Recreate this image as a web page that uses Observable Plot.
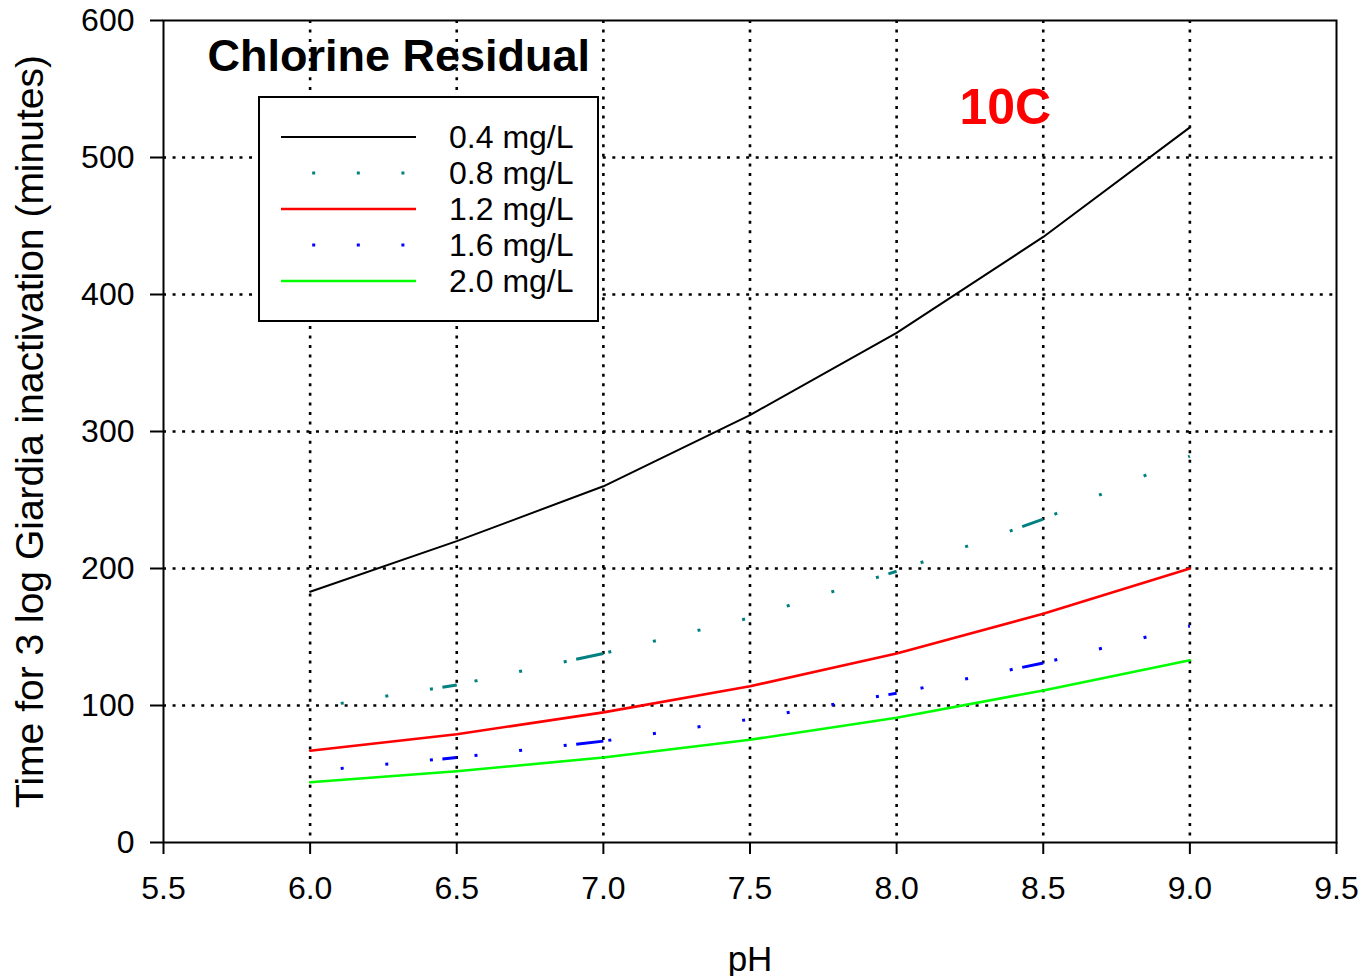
<!DOCTYPE html>
<html>
<head>
<meta charset="utf-8">
<script src="https://cdn.jsdelivr.net/npm/d3@7"></script>
<script src="https://cdn.jsdelivr.net/npm/@observablehq/plot@0.6"></script>
<style>
  html, body { margin: 0; padding: 0; background: #fff; }
  #chart { width: 1361px; height: 976px; }
</style>
</head>
<body>
<div id="chart"></div>
<script>
// ---------- data ----------
const pH = [6.0, 6.5, 7.0, 7.5, 8.0, 8.5, 9.0];
const time04 = [183, 220, 260, 312, 372, 442, 522];
const time08 = [98, 115, 138, 164, 198, 236, 282];
const time12 = [67, 79, 95, 114, 138, 167, 200];
const time16 = [52, 62, 74, 90, 109, 131, 158];
const time20 = [44, 52, 62, 75, 91, 111, 133];
const seriesLabels = ["0.4 mg/L", "0.8 mg/L", "1.2 mg/L", "1.6 mg/L", "2.0 mg/L"];
const xTicks = [5.5, 6.0, 6.5, 7.0, 7.5, 8.0, 8.5, 9.0, 9.5];
const yTicks = [0, 100, 200, 300, 400, 500, 600];
const gridX = [6.0, 6.5, 7.0, 7.5, 8.0, 8.5, 9.0];
const gridY = [100, 200, 300, 400, 500];
const titleText = "Chlorine Residual";
const tempText = "10C";
const xLabel = "pH";
const yLabel = "Time for 3 log Giardia inactivation (minutes)";

// ---------- styles ----------
const W = 1361, H = 976;
const M = {left: 163, right: 25, top: 20, bottom: 134};
const FONT = "'Liberation Sans', Arial, Helvetica, sans-serif";
const styles = [
  {values: time04, color: "#000000", solid: true, width: 2},
  {values: time08, color: "#008080", solid: false, width: 3},
  {values: time12, color: "#ff0000", solid: true, width: 2.6},
  {values: time16, color: "#0000ff", solid: false, width: 3},
  {values: time20, color: "#00ff00", solid: true, width: 2.6}
];

const xScale = Plot.scale({x: {domain: [5.5, 9.5], range: [M.left, W - M.right]}});
const yScale = Plot.scale({y: {domain: [0, 600], range: [H - M.bottom, M.top]}});

// dotted pattern (pixel space): small dots on a fixed horizontal period,
// with a short dash leading into each data point
const DOT_PERIOD = 44.6, DOT_PHASE = 341.7, DOT_LEN = 3, DASH_GAP = 11;
function segmentDash(px1, py1, px2, py2) {
  const dx = px2 - px1, L = Math.hypot(dx, py2 - py1), f = L / dx;
  const arr = [0];
  let pos = 0, last = null;
  const k = Math.ceil((px1 - DOT_PHASE) / DOT_PERIOD - 1e-6);
  for (let xc = DOT_PHASE + k * DOT_PERIOD; xc <= px2 + 0.5; xc += DOT_PERIOD) {
    const s = Math.max(0, (xc - px1) * f - DOT_LEN / 2);
    arr.push(Math.max(0, s - pos), DOT_LEN);
    pos = s + DOT_LEN;
    last = xc;
  }
  if (last !== null) {
    const ds = (last + DASH_GAP - px1) * f;
    if (ds < L - 1) { arr.push(ds - pos, L - ds + 1); }
  }
  arr.push(1000);
  return arr.map(v => v.toFixed(2)).join(" ");
}

const seriesMarks = [];
styles.forEach(s => {
  if (s.solid) {
    seriesMarks.push(Plot.line(pH.map((x, i) => ({x, y: s.values[i]})), {
      x: "x", y: "y", stroke: s.color, strokeWidth: s.width
    }));
  } else {
    for (let i = 0; i < pH.length - 1; i++) {
      const seg = {x1: pH[i], y1: s.values[i], x2: pH[i + 1], y2: s.values[i + 1]};
      const dash = segmentDash(xScale.apply(seg.x1), yScale.apply(seg.y1), xScale.apply(seg.x2), yScale.apply(seg.y2));
      seriesMarks.push(Plot.link([seg], {
        x1: "x1", y1: "y1", x2: "x2", y2: "y2",
        stroke: s.color, strokeWidth: s.width, strokeDasharray: dash
      }));
    }
  }
});

const plot = Plot.plot({
  width: W, height: H,
  marginLeft: M.left, marginRight: M.right, marginTop: M.top, marginBottom: M.bottom,
  style: {fontFamily: FONT, background: "white", color: "black", overflow: "visible"},
  x: {domain: [5.5, 9.5]},
  y: {domain: [0, 600]},
  marks: [
    Plot.ruleX(gridX, {stroke: "black", strokeWidth: 2.6, strokeDasharray: "3 6.56"}),
    Plot.ruleY(gridY, {stroke: "black", strokeWidth: 2.6, strokeDasharray: "3 6.56"}),
    ...seriesMarks,
    Plot.frame({stroke: "black", strokeWidth: 2}),
    Plot.axisX(xTicks, {tickFormat: d3.format(".1f"), tickSize: 12, tickPadding: 22, label: null, fontSize: 32, strokeWidth: 2}),
    Plot.axisY(yTicks, {tickSize: 13, tickPadding: 16, label: null, fontSize: 32, strokeWidth: 2}),
    Plot.text([titleText], {text: d => d, frameAnchor: "top-left", textAnchor: "start", lineAnchor: "bottom",
      dx: 44, dy: 50, fontSize: 45, fontWeight: "bold", fill: "black"}),
    Plot.text([tempText], {text: d => d, frameAnchor: "top-left", textAnchor: "start", lineAnchor: "bottom",
      dx: 796, dy: 103, fontSize: 50, fontWeight: "bold", fill: "#ff0000"}),
    Plot.text([xLabel], {text: d => d, frameAnchor: "bottom", textAnchor: "middle", lineAnchor: "bottom",
      dy: 128, fontSize: 35, fill: "black"}),
    Plot.text([yLabel], {text: d => d, frameAnchor: "left", textAnchor: "middle", lineAnchor: "middle",
      dx: -132.5, rotate: -90, fontSize: 39, fill: "black"})
  ]
});

// ---------- legend (inside the SVG) ----------
const svg = d3.select(plot);
const lg = svg.append("g").attr("font-family", FONT).attr("text-anchor", "start");
lg.append("rect").attr("x", 259).attr("y", 97).attr("width", 339).attr("height", 224)
  .attr("fill", "white").attr("stroke", "black").attr("stroke-width", 2);
styles.forEach((s, i) => {
  const yy = 137 + 36 * i;
  lg.append("line").attr("x1", 281).attr("x2", 416).attr("y1", yy).attr("y2", yy)
    .attr("stroke", s.color).attr("stroke-width", s.solid ? s.width : 3)
    .attr("stroke-dasharray", s.solid ? null : "0 31.2 3 41.6 3 41.6 3 200");
  lg.append("text").attr("x", 449).attr("y", yy).attr("dy", "0.35em")
    .attr("text-anchor", "start")
    .attr("font-size", 32).attr("fill", "black").text(seriesLabels[i]);
});

document.getElementById("chart").appendChild(plot);
</script>
</body>
</html>
